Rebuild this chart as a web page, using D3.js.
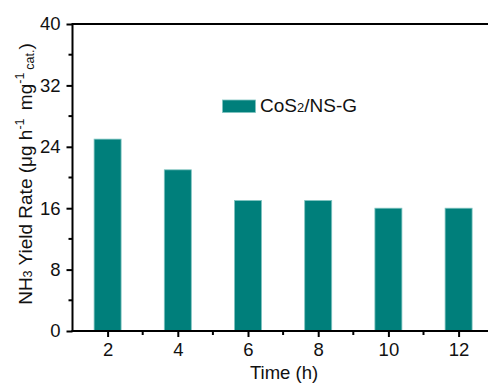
<!DOCTYPE html>
<html>
<head>
<meta charset="utf-8">
<script src="https://cdn.jsdelivr.net/npm/d3@7"></script>
<style>
  html, body { margin: 0; padding: 0; background: #fff; }
  svg { display: block; }
  text { font-family: "Liberation Sans", Arial, sans-serif; fill: #111; }
</style>
</head>
<body>
<svg id="chart" width="488" height="383"></svg>
<script>
// Time points (h) and NH3 yield rate (μg h^-1 mg^-1 cat.)
const times = [2, 4, 6, 8, 10, 12];
const yieldRate = [25, 21, 17, 17, 16, 16];
const xMajorTicks = [2, 4, 6, 8, 10, 12];
const xMinorTicks = [3, 5, 7, 9, 11];
const yMajorTicks = [0, 8, 16, 24, 32, 40];
const yMinorTicks = [4, 12, 20, 28, 36];
const seriesName = "CoS2/NS-G";

const svg = d3.select("#chart");
const plotLeft = 72.5, plotTop = 24, plotBottom = 331;
const barColor = "#007f7b";
const fontFam = "Liberation Sans, Arial, sans-serif";

const x = d3.scaleLinear().domain([1, 13]).range([plotLeft, plotLeft + 12 * 35.1]);
const y = d3.scaleLinear().domain([0, 40]).range([plotBottom, plotTop]);
const barW = 27;

// bars
svg.append("g").selectAll("rect")
  .data(times.map((t, i) => ({ t, v: yieldRate[i] })))
  .join("rect")
  .attr("x", d => x(d.t) - barW / 2)
  .attr("y", d => y(d.v))
  .attr("width", barW)
  .attr("height", d => y(0) - y(d.v))
  .attr("fill", barColor)
  .attr("stroke", "#7fc4c0")
  .attr("stroke-width", 0.8);

// top frame line
svg.append("line")
  .attr("x1", plotLeft).attr("x2", 488)
  .attr("y1", plotTop).attr("y2", plotTop)
  .attr("stroke", "#000").attr("stroke-width", 2);

// y axis
const yAxis = svg.append("g").attr("transform", `translate(${plotLeft},0)`)
  .call(d3.axisLeft(y).tickValues(yMajorTicks).tickSize(6).tickPadding(6).tickFormat(d3.format("d")));
yAxis.select(".domain").attr("stroke-width", 2).attr("d", `M0,${plotTop - 1}V${plotBottom}`);
yAxis.selectAll(".tick line").attr("stroke-width", 2);
yAxis.selectAll(".tick text").attr("font-size", 18.5).style("font-family", fontFam);
svg.append("g").selectAll("line").data(yMinorTicks).join("line")
  .attr("x1", plotLeft - 4).attr("x2", plotLeft)
  .attr("y1", d => y(d)).attr("y2", d => y(d))
  .attr("stroke", "#000").attr("stroke-width", 2);

// x axis
const xAxis = svg.append("g").attr("transform", `translate(0,${plotBottom})`)
  .call(d3.axisBottom(x).tickValues(xMajorTicks).tickSize(6).tickPadding(6).tickFormat(d3.format("d")));
xAxis.select(".domain").attr("stroke-width", 2).attr("d", `M${plotLeft - 1},0H488`);
xAxis.selectAll(".tick line").attr("stroke-width", 2);
xAxis.selectAll(".tick text").attr("font-size", 18.5).style("font-family", fontFam);
svg.append("g").selectAll("line").data(xMinorTicks).join("line")
  .attr("x1", d => x(d)).attr("x2", d => x(d))
  .attr("y1", plotBottom).attr("y2", plotBottom + 4)
  .attr("stroke", "#000").attr("stroke-width", 2);

// axis titles
svg.append("text")
  .attr("x", 284).attr("y", 379)
  .attr("text-anchor", "middle").attr("font-size", 18.5)
  .text("Time (h)");

const yt = svg.append("text")
  .attr("transform", `translate(31.5,174) rotate(-90)`)
  .attr("text-anchor", "middle").attr("font-size", 19);
yt.append("tspan").text("NH");
yt.append("tspan").attr("font-size", 12.5).attr("dy", 0).text("3");
yt.append("tspan").text(" Yield Rate (μg h");
yt.append("tspan").attr("font-size", 12.5).attr("dy", -8).text("-1");
yt.append("tspan").attr("dy", 8).attr("dx", 3).text(" mg");
yt.append("tspan").attr("font-size", 12.5).attr("dy", -8).text("-1");
yt.append("tspan").attr("font-size", 12.5).attr("dy", 10).attr("dx", 3).text("cat.");
yt.append("tspan").attr("dy", -2).text(")");

// legend
const lg = svg.append("g");
lg.append("rect")
  .attr("x", 222.5).attr("y", 100).attr("width", 33).attr("height", 12.5)
  .attr("fill", barColor).attr("stroke", "#7fc4c0").attr("stroke-width", 0.8);
const lt = lg.append("text").attr("x", 260).attr("y", 111.5).attr("font-size", 19);
lt.append("tspan").text("CoS");
lt.append("tspan").attr("font-size", 13).text("2");
lt.append("tspan").text("/NS-G");
</script>
</body>
</html>
